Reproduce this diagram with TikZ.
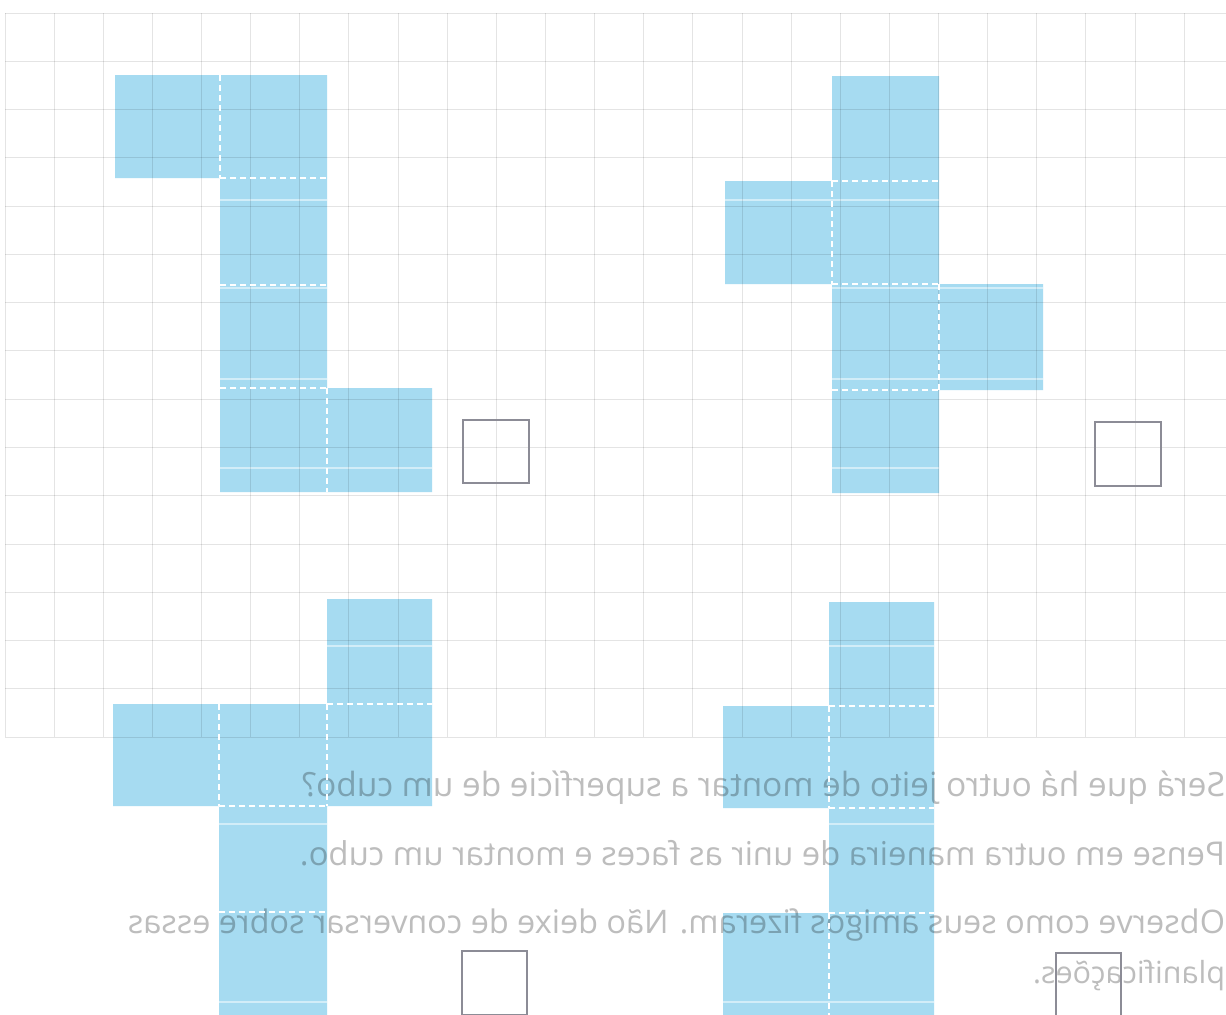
\documentclass[tikz,border=0pt]{standalone}
\usepackage{fontspec}
\setmainfont{Open Sans}
\usepackage{graphicx}
\definecolor{netblue}{HTML}{A6DBF1}
\definecolor{gridgray}{HTML}{E4E4E4}
\definecolor{boxgray}{HTML}{8C8C96}
\definecolor{bleedgray}{HTML}{BDBDBD}
\tikzset{
  gridline/.style={draw=gridgray, line width=0.45pt},
  netface/.style={fill=netblue, draw=none},
  fold/.style={draw=white, line width=1pt, dash pattern=on 3pt off 2pt},
  sheen/.style={draw=white, line width=0.6pt, opacity=0.5},
  tickbox/.style={draw=boxgray, line width=0.8pt},
  bleed/.style={text=bleedgray, inner sep=0pt, outer sep=0pt, font=\fontsize{15}{18}\selectfont}
}
\begin{document}
\begin{tikzpicture}[x=0.5pt,y=-0.5pt]
\useasboundingbox (0,0) rectangle (1226,1014);
\fill[white] (0,0) rectangle (1226,1014);

% cube nets
\path[netface] (115,75) -- (327,75) -- (327,388) -- (432,388) -- (432,492) -- (220,492) -- (220,178) -- (115,178) -- cycle;
\path[netface] (832,76) -- (939,76) -- (939,284) -- (1043,284) -- (1043,390) -- (939,390) -- (939,493) -- (832,493) -- (832,284) -- (725,284) -- (725,181) -- (832,181) -- cycle;
\path[netface] (327,599) -- (432,599) -- (432,806) -- (327,806) -- (327,1020) -- (219,1020) -- (219,806) -- (113,806) -- (113,704) -- (327,704) -- cycle;
\path[netface] (829,602) -- (934,602) -- (934,1020) -- (723,1020) -- (723,913) -- (829,913) -- (829,808) -- (723,808) -- (723,706) -- (829,706) -- cycle;

% faint light streaks of the print inside the blue
\begin{scope}
\clip (115,75) -- (327,75) -- (327,388) -- (432,388) -- (432,492) -- (220,492) -- (220,178) -- (115,178) -- cycle
      (832,76) -- (939,76) -- (939,284) -- (1043,284) -- (1043,390) -- (939,390) -- (939,493) -- (832,493) -- (832,284) -- (725,284) -- (725,181) -- (832,181) -- cycle
      (327,599) -- (432,599) -- (432,806) -- (327,806) -- (327,1020) -- (219,1020) -- (219,806) -- (113,806) -- (113,704) -- (327,704) -- cycle
      (829,602) -- (934,602) -- (934,1020) -- (723,1020) -- (723,913) -- (829,913) -- (829,808) -- (723,808) -- (723,706) -- (829,706) -- cycle;
\foreach \yy in {200,288,379,468,646,824,1002}
  \draw[sheen] (0,\yy) -- (1226,\yy);
\end{scope}

% grid and show-through text, multiplied over the blue
\begin{scope}[blend mode=multiply]
\foreach \i in {0,...,24}
  \draw[gridline] ({5+\i*49.13},13) -- ({5+\i*49.13},737);
\foreach \j in {0,...,15}
  \draw[gridline] (5,{13+\j*48.27}) -- (1226,{13+\j*48.27});

\node[bleed, anchor=base east] (q1) at (1225,796)
  {\reflectbox{\resizebox{461.5pt}{!}{Será que há outro jeito de montar a superfície de um cubo?}}};
\node[bleed, anchor=base east] (q2) at (1225,865)
  {\reflectbox{\resizebox{462.5pt}{!}{Pense em outra maneira de unir as faces e montar um cubo.}}};
\node[bleed, anchor=base east] (q3) at (1225,933)
  {\reflectbox{\resizebox{548.5pt}{!}{Observe como seus amigos fizeram. Não deixe de conversar sobre essas}}};
\node[bleed, anchor=base east] (q4) at (1225,983)
  {\reflectbox{\resizebox{96pt}{!}{planificações.}}};
\end{scope}

% fold lines
\draw[fold] (220,75) -- (220,178);
\draw[fold] (220,178) -- (327,178);
\draw[fold] (220,285) -- (327,285);
\draw[fold] (220,388) -- (327,388);
\draw[fold] (327,388) -- (327,492);

\draw[fold] (832,181) -- (939,181);
\draw[fold] (832,181) -- (832,284);
\draw[fold] (832,284) -- (939,284);
\draw[fold] (939,284) -- (939,390);
\draw[fold] (832,390) -- (939,390);

\draw[fold] (327,704) -- (432,704);
\draw[fold] (219,704) -- (219,806);
\draw[fold] (327,704) -- (327,806);
\draw[fold] (219,806) -- (327,806);
\draw[fold] (219,912) -- (327,912);

\draw[fold] (829,706) -- (934,706);
\draw[fold] (829,706) -- (829,808);
\draw[fold] (829,808) -- (934,808);
\draw[fold] (829,913) -- (934,913);
\draw[fold] (829,913) -- (829,1020);

% answer boxes
\draw[tickbox] (463,420) rectangle (529,483);
\draw[tickbox] (1095,422) rectangle (1161,486);
\draw[tickbox] (462,951) rectangle (527,1015);
\draw[tickbox] (1056,953) rectangle (1121,1016);
\end{tikzpicture}
\end{document}
